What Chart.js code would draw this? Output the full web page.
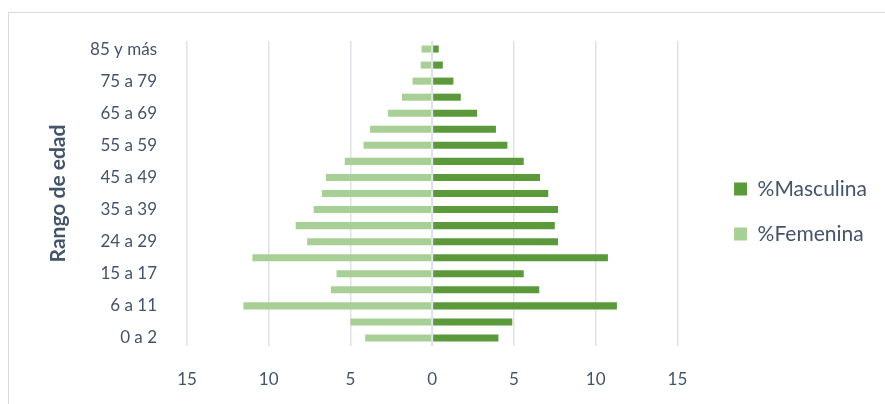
<!DOCTYPE html>
<html>
<head>
<meta charset="utf-8">
<script src="https://cdn.jsdelivr.net/npm/chart.js@4.4.1/dist/chart.umd.min.js"></script>
<style>
  body { margin: 0; background: #fff; }
  #frame { position: absolute; left: 8px; top: 12px; width: 900px; height: 420px; border: 1px solid #d9d9d9; }
  #wrap { position: absolute; left: 0; top: 0; width: 885px; height: 404px; }
</style>
</head>
<body>
<div id="frame"></div>
<div id="wrap"><canvas id="chart"></canvas></div>
<script>
// age groups, top to bottom
var ageGroups = ['85 y más', '80 a 84', '75 a 79', '70 a 74', '65 a 69', '60 a 64', '55 a 59',
  '50 a 54', '45 a 49', '40 a 44', '35 a 39', '30 a 34', '24 a 29', '18 a 23', '15 a 17',
  '12 a 14', '6 a 11', '3 a 5', '0 a 2'];
var masculina = [0.4, 0.65, 1.3, 1.75, 2.75, 3.9, 4.6, 5.6, 6.6, 7.1, 7.7, 7.5, 7.7, 10.75,
  5.6, 6.55, 11.3, 4.9, 4.05];
var femenina = [0.65, 0.7, 1.2, 1.85, 2.7, 3.8, 4.2, 5.35, 6.5, 6.75, 7.25, 8.35, 7.65, 11.0,
  5.85, 6.2, 11.55, 5.0, 4.1];
var xTicks = [-15, -10, -5, 0, 5, 10, 15];

var textColor = '#44546a';
var gridColor = '#dfe2e7';
var font = 'Lato';

// zero line sits on top of the bars like the vertical axis in the original
var zeroLine = {
  id: 'zeroLine',
  afterLayout: function(chart) {
    // lift the legend a little, it is centred a bit higher in the original
    chart.legend.bottom -= 22;
    chart.legend.height -= 22;
  },
  afterDatasetsDraw: function(chart) {
    var x = chart.scales.x.getPixelForValue(0);
    var ctx = chart.ctx;
    ctx.save();
    ctx.strokeStyle = gridColor;
    ctx.lineWidth = 2;
    ctx.beginPath();
    ctx.moveTo(x, chart.chartArea.top);
    ctx.lineTo(x, chart.chartArea.bottom);
    ctx.stroke();
    ctx.restore();
  }
};

new Chart(document.getElementById('chart'), {
  type: 'bar',
  data: {
    labels: ageGroups,
    datasets: [
      {
        label: '%Masculina',
        data: masculina,
        backgroundColor: '#5b9a3a'
      },
      {
        label: '%Femenina',
        data: femenina.map(function(v) { return -v; }),
        backgroundColor: '#a8cf95'
      }
    ]
  },
  options: {
    indexAxis: 'y',
    responsive: true,
    maintainAspectRatio: false,
    animation: false,
    barPercentage: 0.44,
    categoryPercentage: 1,
    layout: { padding: { left: 42, top: 41, bottom: 0, right: 8 } },
    plugins: {
      tooltip: { enabled: false },
      legend: {
        position: 'right',
        labels: {
          color: textColor,
          font: { family: font, size: 21 },
          boxWidth: 13,
          boxHeight: 13,
          padding: 24
        }
      }
    },
    scales: {
      x: {
        stacked: true,
        min: -15,
        max: 17, // leaves room between the 15 line and the legend
        afterBuildTicks: function(s) {
          s.ticks = xTicks.map(function(v) { return { value: v }; });
        },
        afterFit: function(s) { s.height = 58; },
        ticks: {
          color: textColor,
          font: { family: font, size: 17 },
          padding: 23,
          callback: function(v) { return Math.abs(v); }
        },
        grid: { color: gridColor, lineWidth: 1.5, drawTicks: false },
        border: { display: false }
      },
      y: {
        stacked: true,
        afterFit: function(s) { s.width = 187 - 42; },
        ticks: {
          color: textColor,
          font: { family: font, size: 17 },
          padding: 22,
          autoSkip: false,
          callback: function(v, i) { return i % 2 === 0 ? this.getLabelForValue(v) : ''; }
        },
        title: {
          display: true,
          text: 'Rango de edad',
          color: textColor,
          font: { family: font, size: 21, weight: 'bold' },
          padding: { top: 4, bottom: 0 }
        },
        grid: { display: false },
        border: { display: false }
      }
    }
  },
  plugins: [zeroLine]
});
</script>
</body>
</html>
